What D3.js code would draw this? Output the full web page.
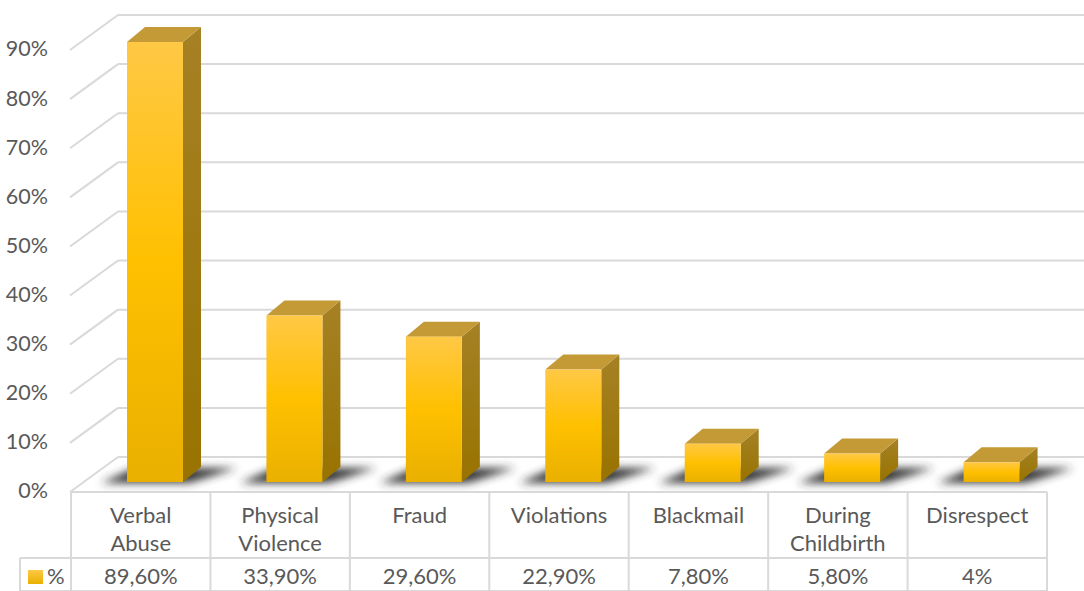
<!DOCTYPE html>
<html><head><meta charset="utf-8">
<script src="https://cdn.jsdelivr.net/npm/d3@7/dist/d3.min.js"></script>
<style>html,body{margin:0;padding:0;background:#fff;}svg{display:block;font-family:Lato,"Open Sans",sans-serif;}</style>
</head><body><svg id="c" width="1084" height="591"></svg>
<script>
const categories = [["Verbal","Abuse"],["Physical","Violence"],["Fraud"],["Violations"],["Blackmail"],["During","Childbirth"],["Disrespect"]];
const values = [89.6, 33.9, 29.6, 22.9, 7.8, 5.8, 4];
const valueLabels = ["89,60%","33,90%","29,60%","22,90%","7,80%","5,80%","4%"];
const ticks = [0,10,20,30,40,50,60,70,80,90];
const seriesName = "%";

const svg = d3.select("#c");
const W = 1084, H = 591;
const textColor = "#595959", gridColor = "#d9d9d9";
const depthX = 48, depthY = 35;
const barDX = 18, barDY = 15;
const fs = 21.5;

const x = d3.scaleBand().domain(d3.range(categories.length)).range([71, 1047]);
const yBack = d3.scaleLinear().domain([0, 90]).range([457, 15]);
const yBar = d3.scaleLinear().domain([0, 90]).range([482, 40]);

const defs = svg.append("defs");
const gf = defs.append("linearGradient").attr("id","gFront").attr("x1",0).attr("y1",0).attr("x2",0).attr("y2",1);
gf.append("stop").attr("offset","0%").attr("stop-color","#FFC845");
gf.append("stop").attr("offset","50%").attr("stop-color","#FFC000");
gf.append("stop").attr("offset","100%").attr("stop-color","#E9B000");
const gs = defs.append("linearGradient").attr("id","gSide").attr("x1",0).attr("y1",0).attr("x2",0).attr("y2",1);
gs.append("stop").attr("offset","0%").attr("stop-color","#A58125");
gs.append("stop").attr("offset","100%").attr("stop-color","#987300");
const gl = defs.append("linearGradient").attr("id","gLeg").attr("x1",0).attr("y1",0).attr("x2",0).attr("y2",1);
gl.append("stop").attr("offset","0%").attr("stop-color","#FFC845");
gl.append("stop").attr("offset","100%").attr("stop-color","#E9B000");
const blur = defs.append("filter").attr("id","blur").attr("x","-50%").attr("y","-100%").attr("width","200%").attr("height","300%");
blur.append("feGaussianBlur").attr("stdDeviation",4);

const g = svg.append("g");
ticks.forEach(t => {
  const yb = yBack(t);
  g.append("line").attr("x1",118).attr("x2",W).attr("y1",yb).attr("y2",yb)
    .attr("stroke",gridColor).attr("stroke-width",2);
  g.append("line").attr("x1",118-depthX).attr("y1",yb+depthY).attr("x2",118).attr("y2",yb)
    .attr("stroke",gridColor).attr("stroke-width",2);
  g.append("text").attr("x",48).attr("y",yb+depthY+1).attr("text-anchor","end")
    .attr("dominant-baseline","middle").attr("fill",textColor).attr("font-size",fs)
    .text(t + "%");
});

const bw = 56;
const sh = svg.append("g").attr("filter","url(#blur)");
values.forEach((v,i) => {
  const x0 = x(i) + 56, x1 = x0 + bw, yb = yBar(0);
  sh.append("polygon")
    .attr("points", [[x0-26, yb+1],[x1+6, yb+1],[x1+barDX+36, yb-barDY+1],[x0+8, yb-barDY+1]].map(p=>p.join(",")).join(" "))
    .attr("fill","#2a2a2a").attr("opacity",0.95);
});

const bars = svg.append("g");
values.forEach((v,i) => {
  const x0 = x(i) + 56, x1 = x0 + bw, yb = yBar(0), yt = yBar(v);
  bars.append("polygon")
    .attr("points", [[x1,yb],[x1+barDX,yb-barDY],[x1+barDX,yt-barDY],[x1,yt]].map(p=>p.join(",")).join(" "))
    .attr("fill","url(#gSide)");
  bars.append("polygon")
    .attr("points", [[x0,yt],[x1,yt],[x1+barDX,yt-barDY],[x0+barDX,yt-barDY]].map(p=>p.join(",")).join(" "))
    .attr("fill","#C39A36");
  bars.append("rect").attr("x",x0).attr("y",yt).attr("width",bw).attr("height",yb-yt)
    .attr("fill","url(#gFront)");
});

const tb = svg.append("g");
const rowTop = 492, rowMid = 558, rowBot = 591;
tb.append("line").attr("x1",71).attr("x2",1047).attr("y1",rowTop).attr("y2",rowTop).attr("stroke",gridColor).attr("stroke-width",2);
tb.append("line").attr("x1",20).attr("x2",1047).attr("y1",rowMid).attr("y2",rowMid).attr("stroke",gridColor).attr("stroke-width",2);
tb.append("line").attr("x1",20).attr("x2",1047).attr("y1",rowBot).attr("y2",rowBot).attr("stroke",gridColor).attr("stroke-width",2);
tb.append("line").attr("x1",20).attr("x2",20).attr("y1",rowMid).attr("y2",rowBot).attr("stroke",gridColor).attr("stroke-width",2);
d3.range(categories.length+1).forEach(i => {
  const xx = i < categories.length ? x(i) : x(categories.length-1) + x.bandwidth();
  tb.append("line").attr("x1",xx).attr("x2",xx).attr("y1",rowTop).attr("y2",rowBot).attr("stroke",gridColor).attr("stroke-width",2);
});
categories.forEach((lines,i) => {
  const cx = x(i) + x.bandwidth()/2;
  lines.forEach((ln,j) => {
    tb.append("text").attr("x",cx).attr("y",517 + j*28).attr("text-anchor","middle")
      .attr("dominant-baseline","middle").attr("fill",textColor).attr("font-size",fs+0.5).text(ln);
  });
  tb.append("text").attr("x",cx).attr("y",578).attr("text-anchor","middle")
    .attr("dominant-baseline","middle").attr("fill",textColor).attr("font-size",fs+0.5).text(valueLabels[i]);
});
tb.append("rect").attr("x",28).attr("y",570).attr("width",15).attr("height",14).attr("fill","url(#gLeg)");
tb.append("text").attr("x",47).attr("y",578).attr("dominant-baseline","middle")
  .attr("fill",textColor).attr("font-size",fs+0.5).text(seriesName);
</script></body></html>
